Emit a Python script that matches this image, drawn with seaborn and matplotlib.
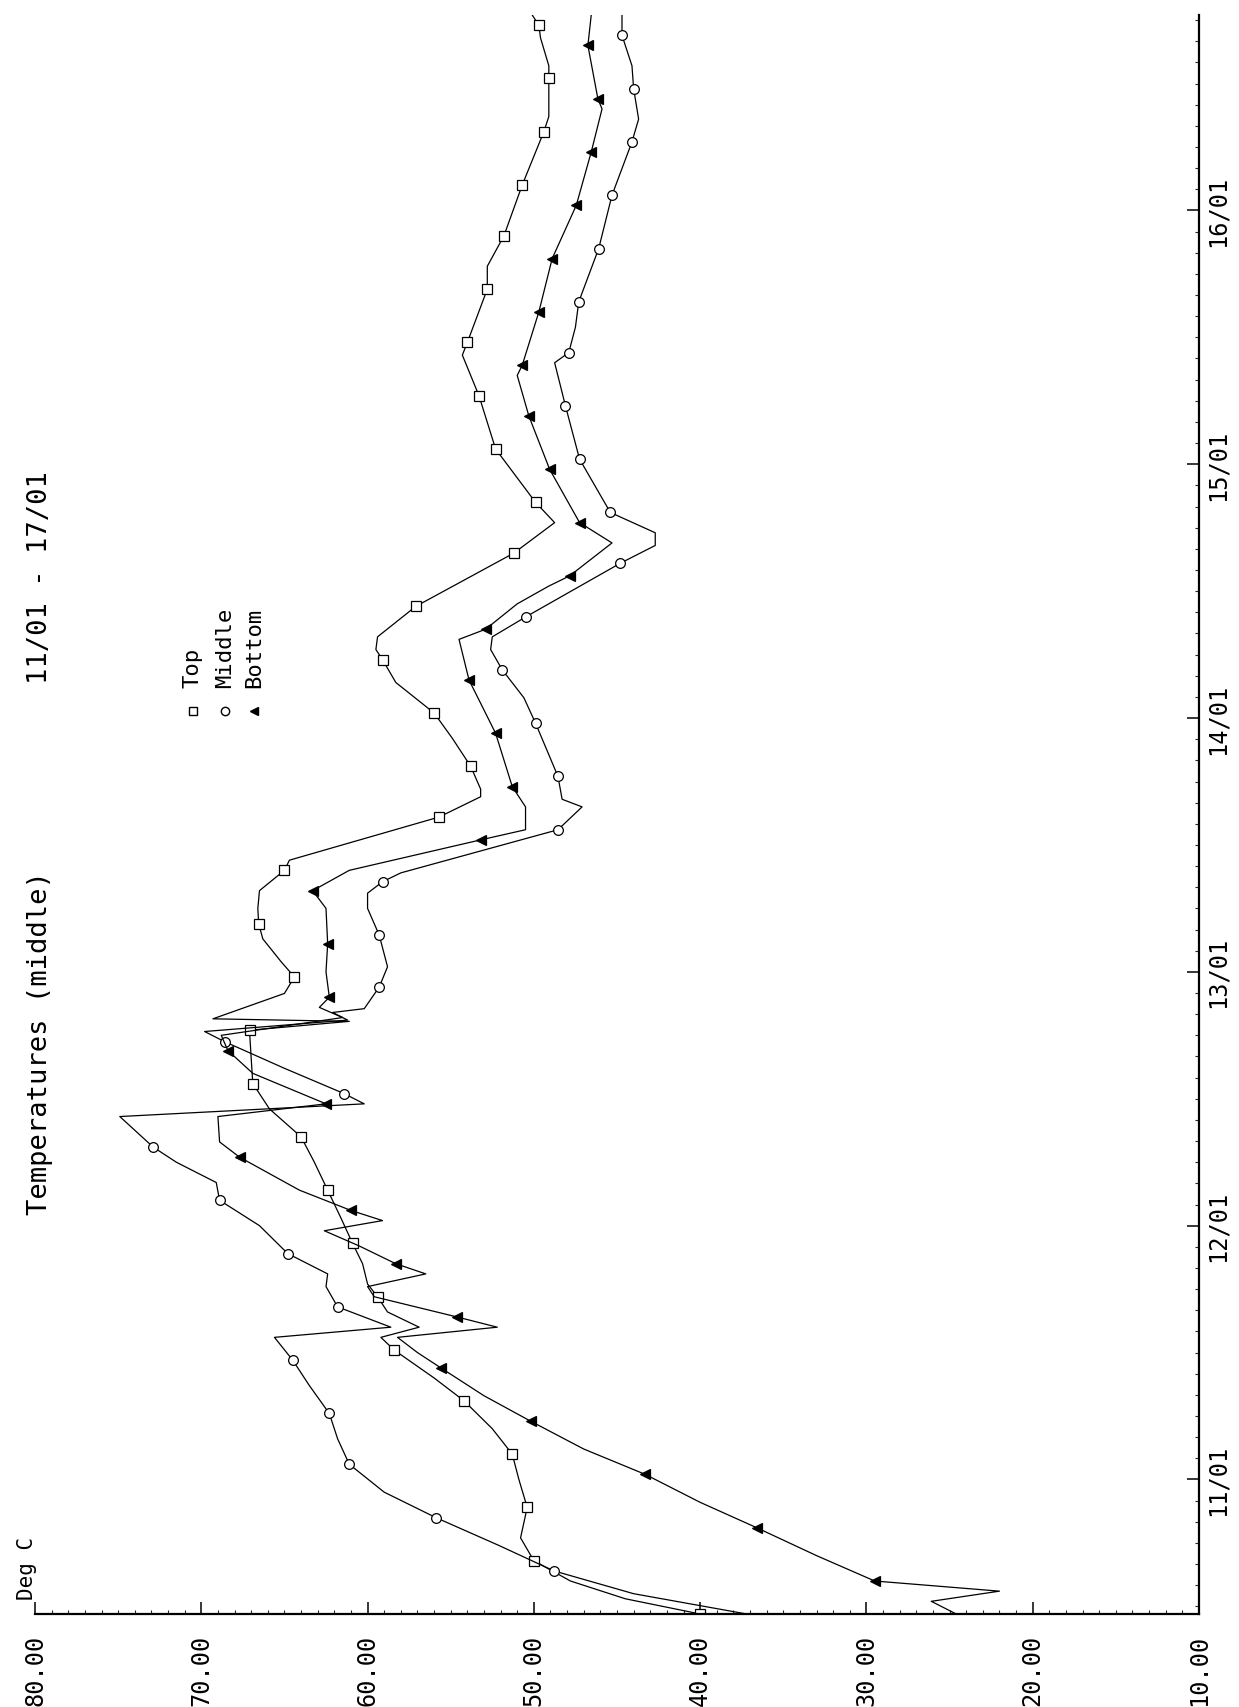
import numpy as np
import pandas as pd
import matplotlib
matplotlib.use("Agg")
import matplotlib.pyplot as plt
from matplotlib.lines import Line2D
import seaborn as sns

sns.set_theme(style="white")
plt.rcParams['font.family'] = ['DejaVu Sans Mono', 'DejaVu Sans']

# ---------------- data (day of January, deg C, marker flag) ----------------
top_day = [10.47, 10.53, 10.60, 10.68, 10.77, 10.89, 11.00, 11.10, 11.20, 11.31,
           11.40, 11.51, 11.56, 11.60, 11.66, 11.72, 11.77, 11.85, 11.93, 12.03,
           12.14, 12.25, 12.35, 12.46, 12.56, 12.66, 12.77, 12.805, 12.815, 12.915,
           12.98, 13.04, 13.13, 13.19, 13.25, 13.32, 13.40, 13.44, 13.61, 13.69,
           13.72, 13.81, 13.92, 14.02, 14.14, 14.23, 14.27, 14.32, 14.44, 14.65,
           14.77, 14.85, 15.06, 15.27, 15.43, 15.48, 15.69, 15.78, 15.90, 16.10,
           16.31, 16.37, 16.52, 16.57, 16.68, 16.73, 16.77]
top_temp = [40.0, 44.5, 47.8, 50.0, 50.8, 50.4, 50.9, 51.3, 52.5, 54.2,
            56.0, 58.4, 59.2, 56.9, 58.8, 59.4, 60.0, 60.3, 60.9, 61.6,
            62.4, 63.2, 64.0, 65.9, 66.9, 67.0, 67.1, 61.1, 69.3, 65.0,
            64.4, 65.2, 66.3, 66.55, 66.6, 66.5, 65.0, 64.7, 55.7, 53.2,
            53.2, 53.8, 54.9, 56.0, 58.3, 59.1, 59.5, 59.4, 57.1, 51.2,
            48.75, 49.9, 52.3, 53.3, 54.3, 54.0, 52.8, 52.8, 51.8, 50.7,
            49.4, 49.1, 49.1, 49.1, 49.6, 49.7, 50.1]
top_mark = [1, 0, 0, 1, 0, 1, 0, 1, 0, 1,
            0, 1, 0, 0, 0, 1, 0, 0, 1, 0,
            1, 0, 1, 0, 1, 0, 1, 0, 0, 0,
            1, 0, 0, 1, 0, 0, 1, 0, 1, 0,
            0, 1, 0, 1, 0, 1, 0, 0, 1, 1,
            0, 1, 1, 1, 0, 1, 1, 0, 1, 1,
            1, 0, 1, 0, 0, 1, 0]

mid_day = [10.47, 10.55, 10.64, 10.74, 10.85, 10.95, 11.06, 11.16, 11.26, 11.37,
           11.47, 11.56, 11.60, 11.66, 11.68, 11.76, 11.81, 11.89, 12.00, 12.10,
           12.17, 12.25, 12.31, 12.43, 12.48, 12.52, 12.62, 12.725, 12.765, 12.81,
           12.84, 12.855, 12.94, 13.02, 13.145, 13.25, 13.31, 13.355, 13.39, 13.56,
           13.65, 13.68, 13.77, 13.98, 14.08, 14.19, 14.27, 14.32, 14.40, 14.61,
           14.68, 14.73, 14.81, 15.02, 15.23, 15.40, 15.44, 15.54, 15.64, 15.85,
           16.06, 16.27, 16.36, 16.48, 16.57, 16.69, 16.77]
mid_temp = [37.2, 44.0, 48.8, 52.1, 55.9, 59.0, 61.1, 61.8, 62.3, 63.5,
            64.5, 65.6, 58.6, 61.0, 61.8, 62.5, 62.4, 64.8, 66.5, 68.9,
            69.1, 71.5, 72.9, 74.9, 60.2, 61.4, 65.0, 68.6, 69.8, 61.2,
            62.1, 60.2, 59.3, 58.8, 59.3, 60.0, 60.0, 59.1, 58.0, 48.55,
            47.1, 48.3, 48.55, 49.9, 50.6, 51.9, 52.6, 52.5, 50.45, 44.8,
            42.7, 42.7, 45.4, 47.25, 48.1, 48.75, 47.9, 47.5, 47.3, 46.1,
            45.3, 44.1, 43.7, 44.0, 44.1, 44.7, 44.7]
mid_mark = [0, 0, 1, 0, 1, 0, 1, 0, 1, 0,
            1, 0, 0, 0, 1, 0, 0, 1, 0, 1,
            0, 0, 1, 0, 0, 1, 0, 1, 0, 0,
            0, 0, 1, 0, 1, 0, 0, 1, 0, 1,
            0, 0, 1, 1, 0, 1, 0, 0, 1, 1,
            0, 0, 1, 1, 1, 0, 1, 0, 1, 1,
            1, 1, 0, 1, 0, 1, 0]

bot_day = [10.47, 10.52, 10.56, 10.60, 10.70, 10.81, 10.91, 11.02, 11.12, 11.23,
           11.33, 11.44, 11.50, 11.56, 11.60, 11.64, 11.72, 11.76, 11.81, 11.85,
           11.92, 11.98, 12.02, 12.06, 12.14, 12.27, 12.33, 12.43, 12.48, 12.60,
           12.69, 12.75, 12.82, 12.86, 12.90, 13.00, 13.11, 13.25, 13.32, 13.40,
           13.52, 13.56, 13.65, 13.73, 13.94, 14.15, 14.31, 14.35, 14.45, 14.52,
           14.56, 14.69, 14.77, 14.98, 15.19, 15.35, 15.39, 15.60, 15.81, 16.02,
           16.23, 16.40, 16.44, 16.65, 16.77]
bot_temp = [24.6, 26.1, 22.0, 29.5, 33.0, 36.6, 40.0, 43.3, 47.0, 50.2,
            53.0, 55.6, 57.0, 58.2, 52.2, 54.6, 59.6, 60.0, 56.5, 58.3,
            60.5, 62.6, 59.1, 61.0, 64.1, 67.7, 68.9, 69.0, 62.5, 66.9,
            68.4, 68.8, 61.5, 62.9, 62.3, 62.5, 62.4, 62.5, 63.3, 61.1,
            53.2, 50.5, 50.5, 51.3, 52.3, 53.9, 54.5, 52.9, 51.0, 49.1,
            47.85, 45.3, 47.25, 49.05, 50.3, 51.0, 50.7, 49.7, 48.9, 47.45,
            46.55, 45.9, 46.15, 46.75, 46.55]
bot_mark = [0, 0, 0, 1, 0, 1, 0, 1, 0, 1,
            0, 1, 0, 0, 0, 1, 0, 0, 0, 1,
            0, 0, 0, 1, 0, 1, 0, 0, 1, 0,
            1, 0, 0, 0, 1, 0, 1, 0, 1, 0,
            1, 0, 0, 1, 1, 1, 0, 1, 0, 0,
            1, 0, 1, 1, 1, 0, 1, 1, 1, 1,
            1, 0, 1, 1, 0]

series_names = ["Top", "Middle", "Bottom"]
temp_ticks = [80, 70, 60, 50, 40, 30, 20, 10]
temp_labels = ["80.00", "70.00", "60.00", "50.00", "40.00", "30.00", "20.00", "10.00"]
date_ticks = [11, 12, 13, 14, 15, 16]
date_labels = ["11/01", "12/01", "13/01", "14/01", "15/01", "16/01"]
title_text = "Temperatures (middle)"
period_text = "11/01 - 17/01"
unit_text = "Deg C"

# ---------------- figure ----------------
W, H = 1239, 1708
fig = plt.figure(figsize=(W / 100, H / 100), dpi=100)
fig.patch.set_facecolor("white")
ax = fig.add_axes([35 / W, 93 / H, 1164 / W, 1599 / H])
ax.set_facecolor("white")

styles = {
    "Top": dict(marker="s", markersize=7, markerfacecolor="white"),
    "Middle": dict(marker="o", markersize=7, markerfacecolor="white"),
    "Bottom": dict(marker="<", markersize=6.5, markerfacecolor="black"),
}
data = {
    "Top": (top_day, top_temp, top_mark),
    "Middle": (mid_day, mid_temp, mid_mark),
    "Bottom": (bot_day, bot_temp, bot_mark),
}
for name in series_names:
    d, t, m = data[name]
    df = pd.DataFrame({"day": d, "temp": t})
    idx = [i for i, v in enumerate(m) if v]
    sns.lineplot(data=df, x="temp", y="day", orient="y", sort=False,
                 estimator=None, ax=ax, color="black", linewidth=0.9,
                 markevery=idx, markeredgecolor="black", markeredgewidth=0.9,
                 **styles[name])

ax.set_xlim(80, 10)
ax.set_ylim(10.47, 16.77)
ax.set_xlabel("")
ax.set_ylabel("")

for s in ["left", "top"]:
    ax.spines[s].set_visible(False)
for s in ["bottom", "right"]:
    ax.spines[s].set_visible(True)
    ax.spines[s].set_color("black")
    ax.spines[s].set_linewidth(1.6)

ax.set_xticks(temp_ticks)
ax.set_xticklabels(temp_labels, rotation=90)
ax.set_xticks(np.arange(10, 81, 1), minor=True)
ax.tick_params(axis="x", which="major", direction="in", length=9, width=1.1,
               pad=14, labelsize=17, colors="black", bottom=True)
ax.tick_params(axis="x", which="minor", direction="in", length=3, width=0.8,
               bottom=True)

ax.yaxis.tick_right()
ax.set_yticks(date_ticks)
ax.set_yticklabels(date_labels, rotation=90, va="center")
ax.set_yticks(np.arange(10.5, 16.77, 1 / 12), minor=True)
ax.tick_params(axis="y", which="major", direction="in", length=9, width=1.1,
               pad=5, labelsize=17, colors="black", right=True, left=False,
               labelright=True, labelleft=False)
ax.tick_params(axis="y", which="minor", direction="in", length=3, width=0.8,
               right=True, left=False)
ax.grid(False)

# titles (rotated like the page)
fig.text(40 / W, 1 - 1043 / H, title_text, rotation=90, ha="center",
         va="center", fontsize=19.5, color="black")
fig.text(40 / W, 1 - 578 / H, period_text, rotation=90, ha="center",
         va="center", fontsize=19.5, color="black")
fig.text(27 / W, 1 - 1600 / H, unit_text, rotation=90, ha="center",
         va="bottom", fontsize=15, color="black")

# legend (rotated)
leg_x = [193, 225, 254]
for name, lx in zip(series_names, leg_x):
    st = styles[name]
    fig.add_artist(Line2D([lx / W], [1 - 712 / H], transform=fig.transFigure,
                          marker=st["marker"], markersize=6,
                          markerfacecolor=st["markerfacecolor"],
                          markeredgecolor="black", markeredgewidth=1.0,
                          linestyle="none"))
    fig.text(lx / W, 1 - 688 / H, name, rotation=90, ha="center", va="bottom",
             fontsize=16, color="black")

fig.savefig("out.png", dpi=100, facecolor="white")
